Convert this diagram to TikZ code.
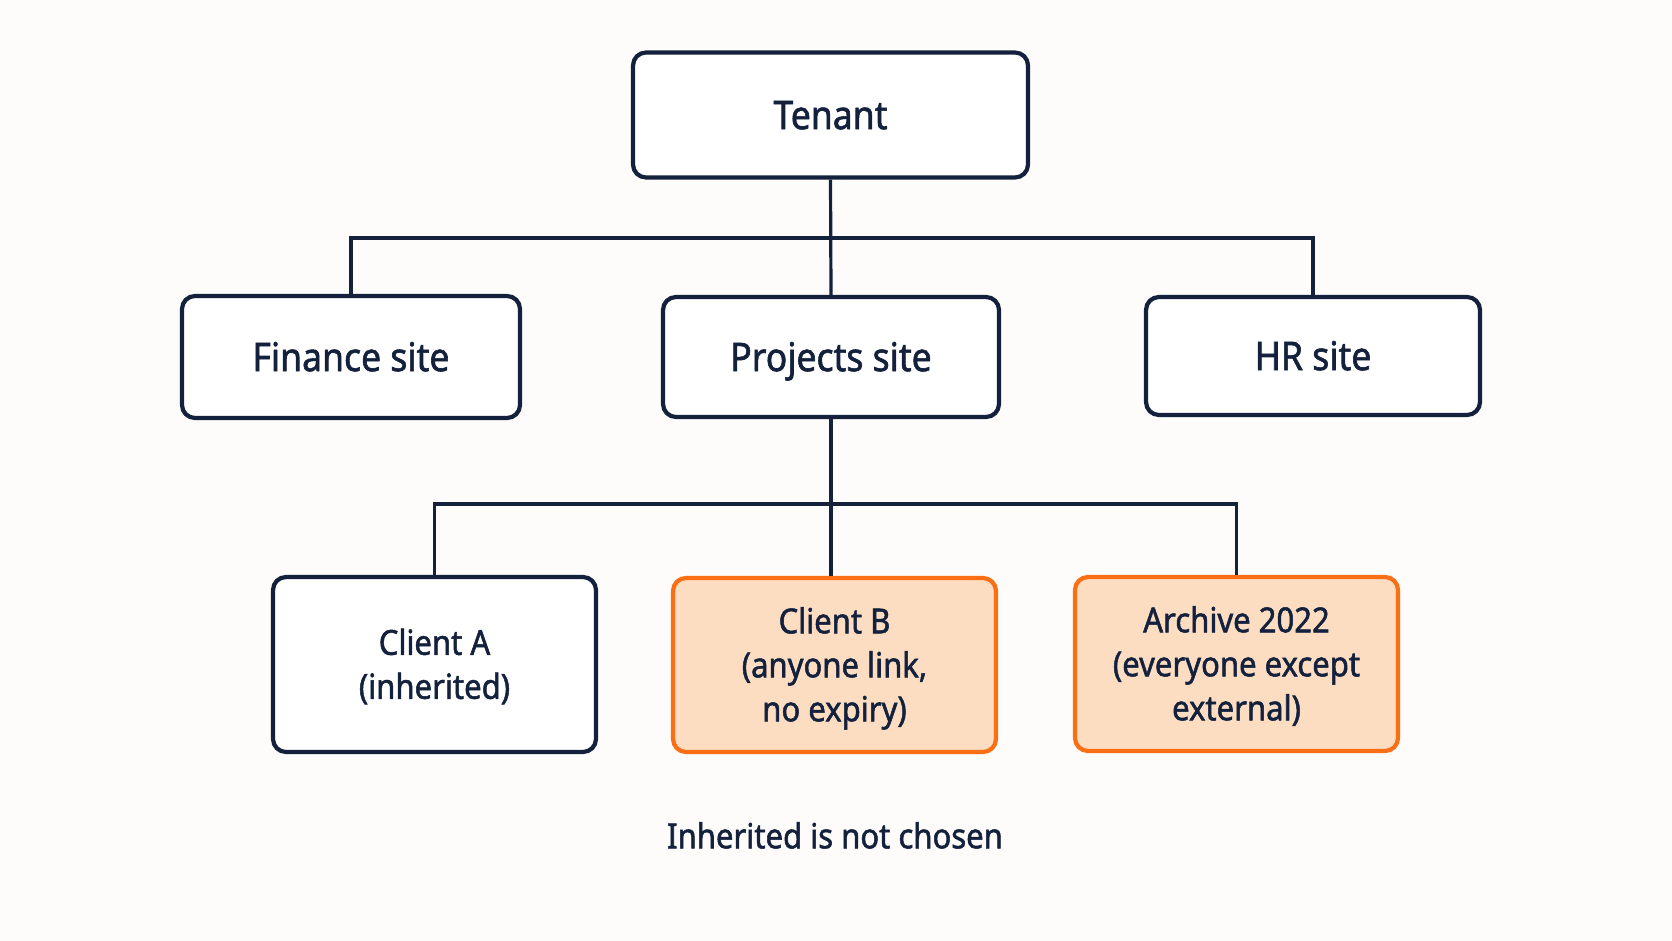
\documentclass[tikz,border=0pt]{standalone}
\usepackage{fontspec}
\setmainfont{Noto Sans}[FakeStretch=0.9,FakeBold=1.5]
\definecolor{navy}{HTML}{14213D}
\definecolor{orng}{HTML}{FA6E14}
\definecolor{peach}{HTML}{FCDDC2}
\definecolor{bg}{HTML}{FDFCFA}
\begin{document}
\begin{tikzpicture}[x=1pt,y=-1pt,
  box/.style={draw=navy,line width=4.2pt,rounded corners=13pt,fill=white,text=navy,inner sep=0pt,align=center},
  hot/.style={box,draw=orng,fill=peach},
  big/.style={font=\fontsize{39.5}{46}\selectfont,text height=28.2pt,text depth=0pt},
  small/.style={font=\fontsize{34.5}{44}\selectfont},
  two/.style={small,text height=68.6pt,text depth=0pt},
  three/.style={small,text height=112.6pt,text depth=0pt},
  wire/.style={draw=navy,line width=3.2pt}]
\fill[bg] (0,0) rectangle (1672,941);
\useasboundingbox (0,0) rectangle (1672,941);
\node[box,big,minimum width=395pt,minimum height=125pt] (tenant) at (830.5,115) {Tenant};
\node[box,big,minimum width=338pt,minimum height=122pt] (finance) at (351,357) {Finance site};
\node[box,big,minimum width=336pt,minimum height=120pt] (projects) at (831,357) {Projects site};
\node[box,big,minimum width=334pt,minimum height=118pt] (hr) at (1313,356) {HR site};
\node[box,two,minimum width=323pt,minimum height=175pt] (clienta) at (434.5,664.5) {Client A\\(inherited)};
\node[hot,three,minimum width=323pt,minimum height=174pt] (clientb) at (834.5,665) {Client B\\(anyone link,\\no expiry)};
\node[hot,three,minimum width=323pt,minimum height=174pt] (archive) at (1236.5,664) {Archive 2022\\(everyone except\\external)};
\node[text=navy,small,text height=24.6pt,text depth=0pt] (note) at (835,836) {Inherited is not chosen};
\coordinate (bus1) at (831,238);
\coordinate (bus2) at (831,504);
\draw[wire] (tenant.south) -- (projects.north);
\draw[wire] (finance.north) -- (finance.north |- bus1) -- (hr.north |- bus1) -- (hr.north);
\draw[wire] (projects.south) -- (projects.south |- clientb.north);
\draw[wire] (clienta.north) -- (clienta.north |- bus2) -- (archive.north |- bus2) -- (archive.north);
\end{tikzpicture}
\end{document}
